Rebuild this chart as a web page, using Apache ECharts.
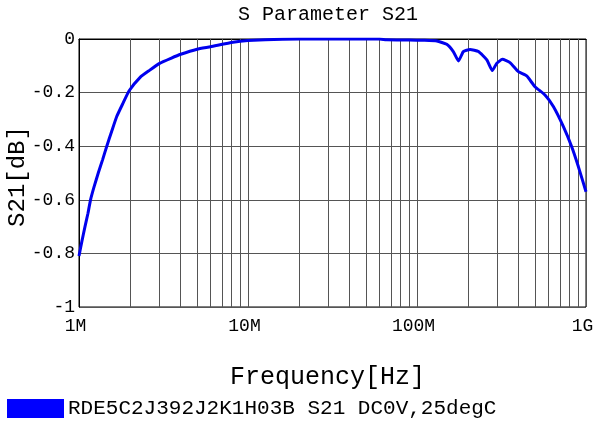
<!DOCTYPE html>
<html>
<head>
<meta charset="utf-8">
<script src="https://cdn.jsdelivr.net/npm/echarts@6/dist/echarts.min.js"></script>
<style>
html,body{margin:0;padding:0;background:#fff;}
#chart{width:595px;height:425px;}
</style>
</head>
<body>
<div id="chart"></div>
<script>
var seriesName = 'RDE5C2J392J2K1H03B S21 DC0V,25degC';
var titleText = 'S Parameter S21';
var xAxisName = 'Frequency[Hz]';
var yAxisName = 'S21[dB]';
var xTickLabels = ['1M', '10M', '100M', '1G'];

var freqMHz = [1, 1.04, 1.085, 1.13, 1.17, 1.23, 1.30, 1.38, 1.46, 1.56, 1.67, 1.82, 1.98, 2.30, 2.6, 3, 3.5, 4, 5, 6, 8.15, 10, 16, 25, 40, 60, 66, 90, 110, 131, 150, 164, 176, 188, 206, 231, 259, 279, 296, 320, 355, 398, 446, 499, 572, 641, 735, 823, 901, 1000];
var s21dB = [-0.81, -0.755, -0.70, -0.65, -0.60, -0.55, -0.50, -0.45, -0.40, -0.345, -0.29, -0.24, -0.193, -0.143, -0.118, -0.091, -0.072, -0.057, -0.038, -0.029, -0.012, -0.006, -0.001, 0.0, 0.0, 0.0, -0.003, -0.004, -0.005, -0.0075, -0.02, -0.047, -0.082, -0.047, -0.039, -0.047, -0.078, -0.118, -0.091, -0.076, -0.088, -0.122, -0.138, -0.178, -0.209, -0.252, -0.327, -0.402, -0.476, -0.570];

var decadesHz = [1e6, 1e7, 1e8];
var minorMultipliers = [2, 3, 4, 5, 6, 7, 8, 9];

var lineData = freqMHz.map(function (f, i) { return [f * 1e6, s21dB[i]]; });
var minorLines = [];
decadesHz.forEach(function (d) {
  minorMultipliers.forEach(function (m) { minorLines.push({ xAxis: d * m }); });
});

var font = 'Liberation Mono';
var chart = echarts.init(document.getElementById('chart'), null, { renderer: 'canvas' });
chart.setOption({
  animation: false,
  backgroundColor: '#fff',
  title: {
    text: titleText,
    left: 328,
    top: 5,
    padding: 0,
    textAlign: 'center',
    textStyle: { fontFamily: font, fontSize: 20, fontWeight: 'normal', color: '#000' }
  },
  legend: {
    data: [seriesName],
    left: 7,
    top: 398,
    padding: 0,
    icon: 'rect',
    itemWidth: 57,
    itemHeight: 19,
    textStyle: { fontFamily: font, fontSize: 21, color: '#000', padding: [0, 0, 0, -1] }
  },
  grid: {
    left: 79, right: 9, top: 39, bottom: 118,
    outerBoundsMode: 'none',
    containLabel: false,
    show: true, borderColor: '#000', borderWidth: 1, backgroundColor: 'transparent'
  },
  xAxis: {
    type: 'log',
    logBase: 10,
    min: 1e6,
    max: 1e9,
    name: xAxisName,
    nameLocation: 'middle',
    nameMoveOverlap: false,
    nameGap: 58,
    nameTextStyle: { fontFamily: font, fontSize: 25, color: '#000', padding: [0, 10, 0, 0] },
    axisLine: { show: true, lineStyle: { color: '#000', width: 1 } },
    axisTick: { show: false },
    axisLabel: {
      margin: 10,
      fontFamily: font,
      fontSize: 18,
      color: '#000',
      padding: [0, 7, 0, 0],
      formatter: function (v) {
        var idx = Math.round(Math.log10(v)) - 6;
        return xTickLabels[idx] !== undefined ? xTickLabels[idx] : '';
      }
    },
    splitLine: { show: true, lineStyle: { color: '#555', width: 1 } }
  },
  yAxis: {
    type: 'value',
    min: -1,
    max: 0,
    interval: 0.2,
    name: yAxisName,
    nameLocation: 'middle',
    nameMoveOverlap: false,
    nameRotate: 90,
    nameGap: 49,
    nameTextStyle: { fontFamily: font, fontSize: 24, color: '#000', padding: [0, 7, 0, 0] },
    axisLine: { show: true, lineStyle: { color: '#000', width: 1 } },
    axisTick: { show: false },
    axisLabel: {
      margin: 4,
      fontFamily: font,
      fontSize: 18,
      color: '#000',
      formatter: function (v) { return String(Math.round(v * 10) / 10); }
    },
    splitLine: { show: true, lineStyle: { color: '#555', width: 1 } }
  },
  series: [
    {
      name: 'grid',
      type: 'line',
      data: lineData,
      z: 1,
      silent: true,
      showSymbol: false,
      symbol: 'none',
      lineStyle: { opacity: 0 },
      markLine: {
        silent: true,
        symbol: ['none', 'none'],
        label: { show: false },
        lineStyle: { color: '#555', width: 1, type: 'solid' },
        emphasis: { disabled: true },
        data: minorLines
      }
    },
    {
      name: seriesName,
      type: 'line',
      data: lineData,
      z: 5,
      smooth: 0.15,
      showSymbol: false,
      symbol: 'none',
      itemStyle: { color: '#0000ff' },
      lineStyle: { color: '#0000ee', width: 3 }
    }
  ]
});
</script>
</body>
</html>
